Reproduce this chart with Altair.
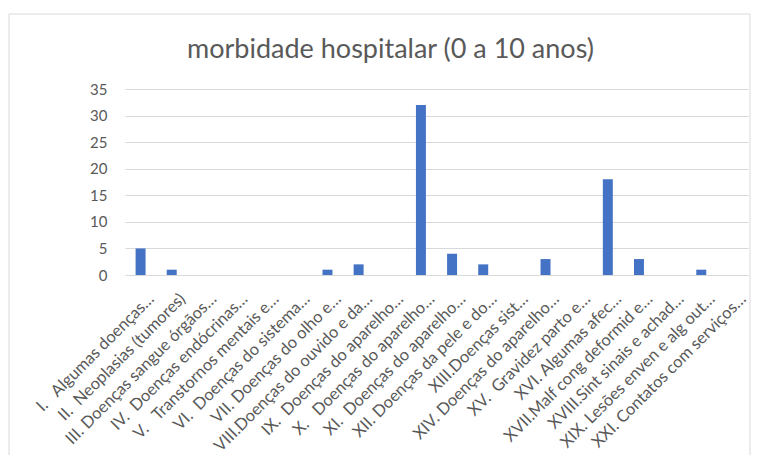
import altair as alt
import pandas as pd

NB = "\u00a0"

categories = [
    "I." + NB + NB + " Algumas doenças…",
    "II." + NB + " Neoplasias (tumores)",
    "III. Doenças sangue órgãos…",
    "IV." + NB + " Doenças endócrinas…",
    "V." + NB + NB + " Transtornos mentais e…",
    "VI." + NB + " Doenças do sistema…",
    "VII. Doenças do olho e…",
    "VIII.Doenças do ouvido e da…",
    "IX." + NB + " Doenças do aparelho…",
    "X." + NB + NB + " Doenças do aparelho…",
    "XI." + NB + " Doenças do aparelho…",
    "XII. Doenças da pele e do…",
    "XIII.Doenças sist…",
    "XIV. Doenças do aparelho…",
    "XV." + NB + " Gravidez parto e…",
    "XVI. Algumas afec…",
    "XVII.Malf cong deformid e…",
    "XVIII.Sint sinais e achad…",
    "XIX. Lesões enven e alg out…",
    "XXI. Contatos com serviços…",
]
values = [5, 1, 0, 0, 0, 0, 1, 2, 0, 32, 4, 2, 0, 3, 0, 18, 3, 0, 1, 0]
y_ticks = [0, 5, 10, 15, 20, 25, 30, 35]

df = pd.DataFrame({"cat": categories, "val": values})

FONT = "Lato"
GRAY = "#595959"

bars = alt.Chart(df).mark_bar(color="#4472C4").encode(
    x=alt.X(
        "cat:N",
        sort=categories,
        scale=alt.Scale(paddingInner=0.68, paddingOuter=0.34),
        axis=alt.Axis(
            title=None,
            labelAngle=-45,
            labelAlign="right",
            labelBaseline="middle",
            ticks=False,
            domain=False,
            labelPadding=21,
            labelOffset=11,
            labelFont=FONT,
            labelFontSize=16.5,
            labelColor=GRAY,
            labelLimit=0,
        ),
    ),
    y=alt.Y(
        "val:Q",
        scale=alt.Scale(domain=[0, 35], nice=False),
        axis=alt.Axis(
            values=y_ticks,
            title=None,
            ticks=False,
            domain=False,
            grid=True,
            gridColor="#d9d9d9",
            gridWidth=1,
            labelPadding=18,
            labelFont=FONT,
            labelFontSize=15,
            labelColor=GRAY,
        ),
    ),
)

border = alt.Chart(alt.Data(values=[{}])).mark_rect(
    fill=None, stroke="#d9d9d9", strokeWidth=1
).encode(
    x=alt.value(-116),
    x2=alt.value(625),
    y=alt.value(-75),
    y2=alt.value(385),
)

chart = alt.layer(border, bars).properties(
    width=623,
    height=186,
    padding={"left": 117, "top": 81, "right": 3, "bottom": 180},
    autosize=alt.AutoSizeParams(type="none"),
    background="white",
    title=alt.TitleParams(
        text="morbidade hospitalar (0 a 10 anos)",
        font=FONT,
        fontSize=27,
        fontWeight="normal",
        color=GRAY,
        anchor="middle",
        dx=-46,
        dy=72,
        offset=22,
    ),
).configure_view(stroke=None)

chart.save("out.html", embed_options={"renderer": "svg", "actions": False})
